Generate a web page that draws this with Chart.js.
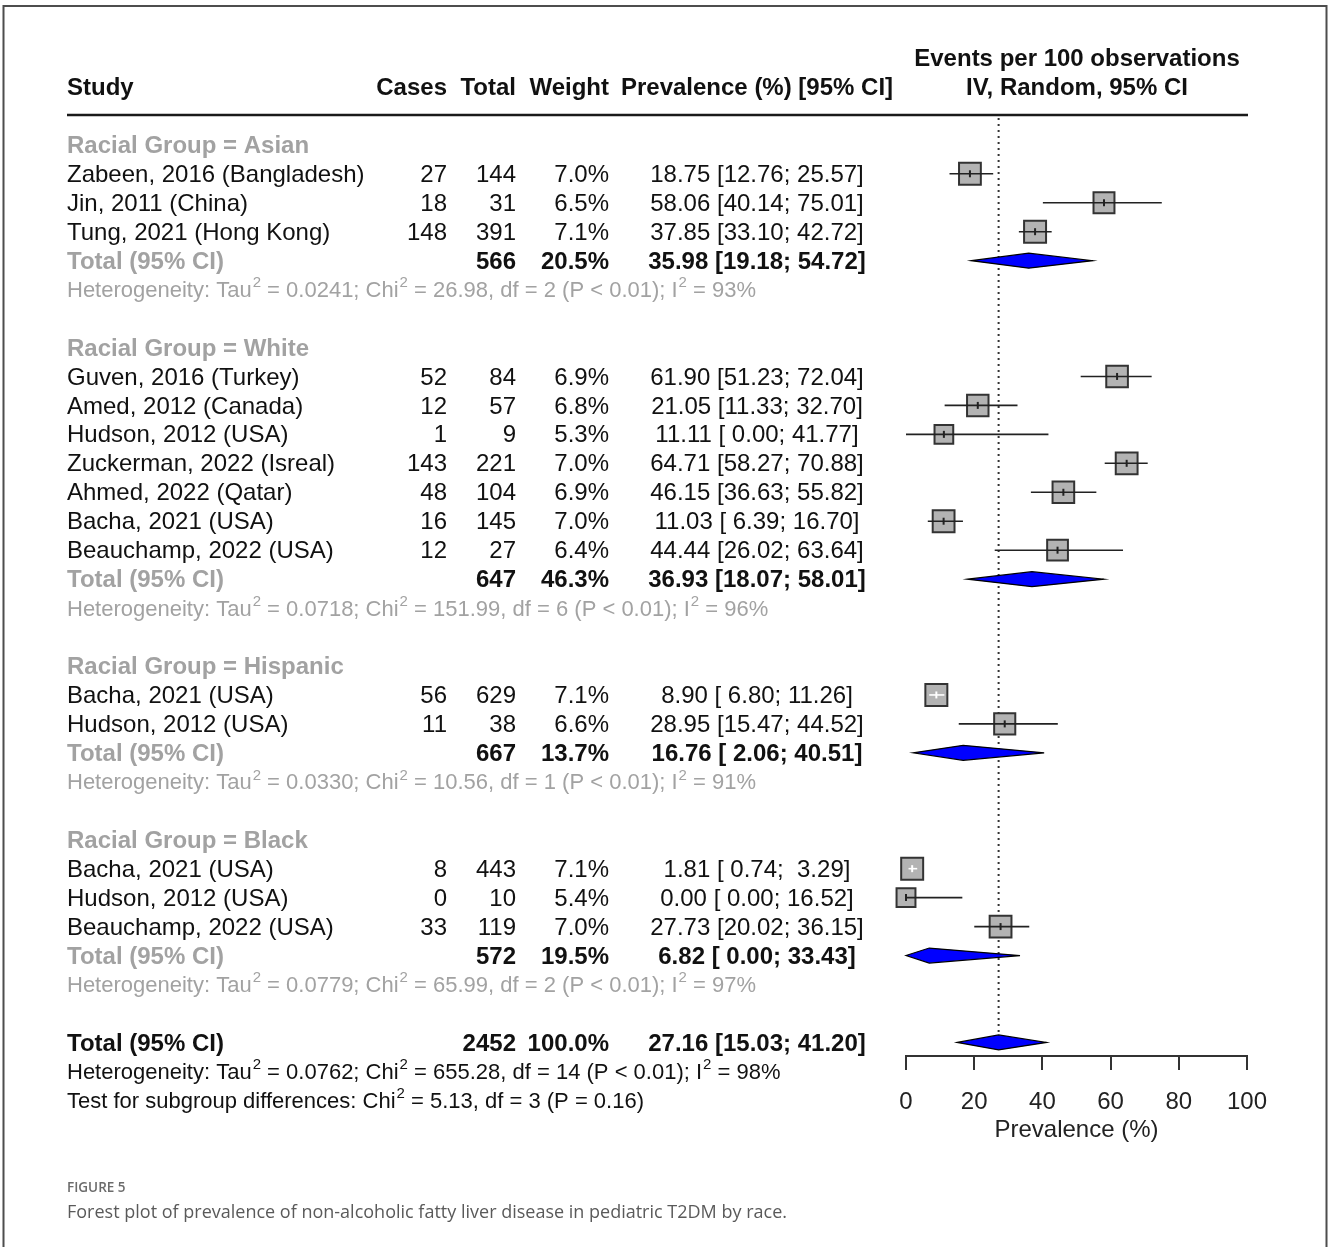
<!DOCTYPE html>
<html>
<head>
<meta charset="utf-8">
<title>Forest plot – NAFLD prevalence in pediatric T2DM by race</title>
<script src="https://cdn.jsdelivr.net/npm/chart.js@4.4.1/dist/chart.umd.min.js"></script>
<style>
  html, body { margin: 0; padding: 0; background: #ffffff; }
  canvas { display: block; }
</style>
</head>
<body>
<canvas id="forest" width="1328" height="1247"></canvas>
<script>
// ---- Study level data ----
const studyLabels = [
  "Zabeen, 2016 (Bangladesh)", "Jin, 2011 (China)", "Tung, 2021 (Hong Kong)",
  "Guven, 2016 (Turkey)", "Amed, 2012 (Canada)", "Hudson, 2012 (USA)",
  "Zuckerman, 2022 (Isreal)", "Ahmed, 2022 (Qatar)", "Bacha, 2021 (USA)",
  "Beauchamp, 2022 (USA)",
  "Bacha, 2021 (USA)", "Hudson, 2012 (USA)",
  "Bacha, 2021 (USA)", "Hudson, 2012 (USA)", "Beauchamp, 2022 (USA)"
];
const studyGroup = [0, 0, 0, 1, 1, 1, 1, 1, 1, 1, 2, 2, 3, 3, 3];
const cases      = [27, 18, 148, 52, 12, 1, 143, 48, 16, 12, 56, 11, 8, 0, 33];
const totals     = [144, 31, 391, 84, 57, 9, 221, 104, 145, 27, 629, 38, 443, 10, 119];
const weights    = [7.0, 6.5, 7.1, 6.9, 6.8, 5.3, 7.0, 6.9, 7.0, 6.4, 7.1, 6.6, 7.1, 5.4, 7.0];
const prevalence = [18.75, 58.06, 37.85, 61.90, 21.05, 11.11, 64.71, 46.15, 11.03, 44.44, 8.90, 28.95, 1.81, 0.00, 27.73];
const ciLow      = [12.76, 40.14, 33.10, 51.23, 11.33, 0.00, 58.27, 36.63, 6.39, 26.02, 6.80, 15.47, 0.74, 0.00, 20.02];
const ciHigh     = [25.57, 75.01, 42.72, 72.04, 32.70, 41.77, 70.88, 55.82, 16.70, 63.64, 11.26, 44.52, 3.29, 16.52, 36.15];

// ---- Subgroup (racial group) pooled results ----
const groupNames  = ["Asian", "White", "Hispanic", "Black"];
const groupTotal  = [566, 647, 667, 572];
const groupWeight = [20.5, 46.3, 13.7, 19.5];
const groupPrev   = [35.98, 36.93, 16.76, 6.82];
const groupLow    = [19.18, 18.07, 2.06, 0.00];
const groupHigh   = [54.72, 58.01, 40.51, 33.43];
const groupTau2   = ["0.0241", "0.0718", "0.0330", "0.0779"];
const groupChi2   = ["26.98", "151.99", "10.56", "65.99"];
const groupDf     = [2, 6, 1, 2];
const groupP      = ["< 0.01", "< 0.01", "< 0.01", "< 0.01"];
const groupI2     = [93, 96, 91, 97];

// ---- Overall pooled result ----
const overallTotal  = 2452;
const overallWeight = 100.0;
const overallPrev   = 27.16;
const overallLow    = 15.03;
const overallHigh   = 41.20;
const overallHet    = { tau2: "0.0762", chi2: "655.28", df: 14, p: "< 0.01", i2: 98 };
const subgroupTest  = { chi2: "5.13", df: 3, p: "= 0.16" };

// ---- Axis ----
const axisTicks = [0, 20, 40, 60, 80, 100];

// ---- Row layout: header, studies, total, heterogeneity, spacer per group ----
const rows = [];
const studyRow = [];
let r = 0;
groupNames.forEach((name, g) => {
  rows.push({ kind: "group", g, row: r++ });
  studyGroup.forEach((sg, i) => {
    if (sg === g) { studyRow[i] = r; rows.push({ kind: "study", i, row: r++ }); }
  });
  rows.push({ kind: "total", g, row: r++ });
  rows.push({ kind: "het", g, row: r++ });
  r++;
});
const overallRow = r;

// ---- Drawing helpers ----
const FONT = "'Liberation Sans', Arial, Helvetica, sans-serif";
const GREY = "#a2a2a2";
const INK = "#111111";
const TEXT_DY = 1.5;
const COL = { study: 67, cases: 447, total: 516, weight: 609, ci: 757, plot: 1077 };

function ciText(p, lo, hi) {
  const f = v => v.toFixed(2).padStart(5, " ");
  return `${p.toFixed(2)} [${f(lo)}; ${f(hi)}]`;
}
function text(ctx, s, x, y, opt) {
  ctx.font = `${opt.bold ? "bold " : ""}${opt.size || 24}px ${FONT}`;
  ctx.fillStyle = opt.color || INK;
  ctx.textAlign = opt.align || "left";
  ctx.textBaseline = "middle";
  ctx.fillText(s, x, y + TEXT_DY);
}
function rich(ctx, parts, x, y, size, color) {
  ctx.fillStyle = color;
  ctx.textAlign = "left";
  ctx.textBaseline = "middle";
  let cx = x;
  y += TEXT_DY;
  parts.forEach(p => {
    if (p.sup) {
      ctx.font = `${Math.round(size * 0.68)}px ${FONT}`;
      ctx.fillText(p.t, cx + 1, y - size * 0.36);
      cx += ctx.measureText(p.t).width + 1;
    } else {
      ctx.font = `${size}px ${FONT}`;
      ctx.fillText(p.t, cx, y);
      cx += ctx.measureText(p.t).width;
    }
  });
}
function hetParts(h) {
  return [
    { t: "Heterogeneity: Tau" }, { t: "2", sup: true },
    { t: ` = ${h.tau2}; Chi` }, { t: "2", sup: true },
    { t: ` = ${h.chi2}, df = ${h.df} (P ${h.p}); I` }, { t: "2", sup: true },
    { t: ` = ${h.i2}%` }
  ];
}
// square side grows with sqrt(weight), so its area follows the weight
function boxRadius(w) {
  const side = 9.0 * Math.sqrt(w) - 2;
  return side / (2 * Math.SQRT1_2);
}
function diamond(ctx, xs, y, est, lo, hi) {
  const h = 7.5;
  ctx.beginPath();
  ctx.moveTo(xs.getPixelForValue(lo), y);
  ctx.lineTo(xs.getPixelForValue(est), y - h);
  ctx.lineTo(xs.getPixelForValue(hi), y);
  ctx.lineTo(xs.getPixelForValue(est), y + h);
  ctx.closePath();
  ctx.fillStyle = "#0000ff";
  ctx.fill();
  ctx.lineWidth = 1.2;
  ctx.strokeStyle = "#000000";
  ctx.stroke();
}

const forestPlugin = {
  id: "forestLayer",
  beforeDraw(chart) {
    const { ctx } = chart;
    const ys = chart.scales.y;
    const Y = v => ys.getPixelForValue(v);
    ctx.save();
    ctx.fillStyle = "#ffffff";
    ctx.fillRect(0, 0, chart.width, chart.height);

    // frame (open at the bottom)
    ctx.strokeStyle = "#4d4d4d";
    ctx.lineWidth = 2;
    ctx.beginPath();
    ctx.moveTo(3.5, 1247); ctx.lineTo(3.5, 6); ctx.lineTo(1326.5, 6); ctx.lineTo(1326.5, 1247);
    ctx.stroke();

    // column headers
    text(ctx, "Events per 100 observations", COL.plot, Y(-3), { bold: true, align: "center" });
    text(ctx, "IV, Random, 95% CI", COL.plot, Y(-2), { bold: true, align: "center" });
    text(ctx, "Study", COL.study, Y(-2), { bold: true });
    text(ctx, "Cases", COL.cases, Y(-2), { bold: true, align: "right" });
    text(ctx, "Total", COL.total, Y(-2), { bold: true, align: "right" });
    text(ctx, "Weight", COL.weight, Y(-2), { bold: true, align: "right" });
    text(ctx, "Prevalence (%) [95% CI]", COL.ci, Y(-2), { bold: true, align: "center" });

    // header rule
    ctx.strokeStyle = "#1a1a1a";
    ctx.lineWidth = 2.5;
    ctx.beginPath();
    ctx.moveTo(67, chart.chartArea.top); ctx.lineTo(1248, chart.chartArea.top);
    ctx.stroke();

    rows.forEach(item => {
      const y = Y(item.row);
      if (item.kind === "group") {
        text(ctx, `Racial Group = ${groupNames[item.g]}`, COL.study, y, { bold: true, color: GREY });
      } else if (item.kind === "study") {
        const i = item.i;
        text(ctx, studyLabels[i], COL.study, y, {});
        text(ctx, String(cases[i]), COL.cases, y, { align: "right" });
        text(ctx, String(totals[i]), COL.total, y, { align: "right" });
        text(ctx, weights[i].toFixed(1) + "%", COL.weight, y, { align: "right" });
        text(ctx, ciText(prevalence[i], ciLow[i], ciHigh[i]), COL.ci, y, { align: "center" });
      } else if (item.kind === "total") {
        const g = item.g;
        text(ctx, "Total (95% CI)", COL.study, y, { bold: true, color: GREY });
        text(ctx, String(groupTotal[g]), COL.total, y, { bold: true, align: "right" });
        text(ctx, groupWeight[g].toFixed(1) + "%", COL.weight, y, { bold: true, align: "right" });
        text(ctx, ciText(groupPrev[g], groupLow[g], groupHigh[g]), COL.ci, y, { bold: true, align: "center" });
      } else if (item.kind === "het") {
        const g = item.g;
        rich(ctx, hetParts({ tau2: groupTau2[g], chi2: groupChi2[g], df: groupDf[g], p: groupP[g], i2: groupI2[g] }),
             COL.study, y, 22, GREY);
      }
    });

    // overall
    const yo = Y(overallRow);
    text(ctx, "Total (95% CI)", COL.study, yo, { bold: true });
    text(ctx, String(overallTotal), COL.total, yo, { bold: true, align: "right" });
    text(ctx, overallWeight.toFixed(1) + "%", COL.weight, yo, { bold: true, align: "right" });
    text(ctx, ciText(overallPrev, overallLow, overallHigh), COL.ci, yo, { bold: true, align: "center" });
    rich(ctx, hetParts(overallHet), COL.study, Y(overallRow + 1), 22, INK);
    rich(ctx, [
      { t: "Test for subgroup differences: Chi" }, { t: "2", sup: true },
      { t: ` = ${subgroupTest.chi2}, df = ${subgroupTest.df} (P ${subgroupTest.p})` }
    ], COL.study, Y(overallRow + 2), 22, INK);

    // caption
    ctx.font = `600 13.5px 'Open Sans', 'Noto Sans', sans-serif`;
    ctx.fillStyle = "#6b6b6b";
    ctx.textAlign = "left";
    ctx.textBaseline = "middle";
    ctx.fillText("FIGURE 5", 67, 1188);
    ctx.font = `18px 'Open Sans', 'Noto Sans', sans-serif`;
    ctx.fillStyle = "#5a5a5a";
    ctx.fillText("Forest plot of prevalence of non-alcoholic fatty liver disease in pediatric T2DM by race.", 67, 1213);
    ctx.restore();
  },
  beforeDatasetsDraw(chart) {
    const { ctx } = chart;
    const xs = chart.scales.x, ys = chart.scales.y;
    const x = xs.getPixelForValue(overallPrev);
    ctx.save();
    ctx.strokeStyle = "#333333";
    ctx.lineWidth = 2;
    ctx.setLineDash([2, 4]);
    ctx.beginPath();
    ctx.moveTo(x, chart.chartArea.top + 3);
    ctx.lineTo(x, ys.getPixelForValue(overallRow) - 7);
    ctx.stroke();
    ctx.restore();
  },
  afterDatasetsDraw(chart) {
    const { ctx } = chart;
    const xs = chart.scales.x, ys = chart.scales.y;
    ctx.save();
    prevalence.forEach((p, i) => {
      const y = ys.getPixelForValue(studyRow[i]);
      const xc = xs.getPixelForValue(p);
      const half = boxRadius(weights[i]) * Math.SQRT1_2;
      const x0 = xs.getPixelForValue(ciLow[i]);
      const x1 = xs.getPixelForValue(ciHigh[i]);
      const inside = x0 >= xc - half && x1 <= xc + half;
      ctx.strokeStyle = inside ? "#ffffff" : "#222222";
      ctx.lineWidth = 1.6;
      ctx.beginPath();
      ctx.moveTo(x0, y); ctx.lineTo(x1, y);
      ctx.stroke();
      ctx.lineWidth = 2;
      ctx.beginPath();
      ctx.moveTo(xc, y - 3.5); ctx.lineTo(xc, y + 3.5);
      ctx.stroke();
    });
    groupNames.forEach((n, g) => {
      const row = rows.find(it => it.kind === "total" && it.g === g).row;
      diamond(ctx, xs, ys.getPixelForValue(row), groupPrev[g], groupLow[g], groupHigh[g]);
    });
    diamond(ctx, xs, ys.getPixelForValue(overallRow), overallPrev, overallLow, overallHigh);
    ctx.restore();
  }
};

new Chart(document.getElementById("forest"), {
  type: "scatter",
  data: {
    datasets: [{
      label: "Prevalence (%)",
      data: prevalence.map((p, i) => ({ x: p, y: studyRow[i] })),
      pointStyle: "rect",
      pointRadius: c => boxRadius(weights[c.dataIndex]),
      pointHoverRadius: c => boxRadius(weights[c.dataIndex]),
      backgroundColor: "#b3b3b3",
      borderColor: "#333333",
      borderWidth: 2,
      clip: false
    }]
  },
  options: {
    responsive: false,
    animation: false,
    events: [],
    layout: { padding: { left: 906, right: 81, top: 115, bottom: 51 } },
    plugins: { legend: { display: false }, tooltip: { enabled: false } },
    scales: {
      x: {
        type: "linear",
        min: axisTicks[0],
        max: axisTicks[axisTicks.length - 1],
        afterBuildTicks: s => { s.ticks = axisTicks.map(v => ({ value: v })); },
        afterFit: s => { s.height = 140; },
        ticks: { color: "#222222", font: { family: FONT, size: 24 }, padding: 18, maxRotation: 0 },
        grid: { drawOnChartArea: false, drawTicks: true, tickLength: 14, color: "#333333", lineWidth: 2 },
        border: { display: true, color: "#333333", width: 2 },
        title: { display: true, text: "Prevalence (%)", color: "#222222",
                 font: { family: FONT, size: 24 }, padding: { top: 0, bottom: 51 } }
      },
      y: { type: "linear", reverse: true, min: -1.03, max: 31.47, display: false }
    }
  },
  plugins: [forestPlugin]
});
</script>
</body>
</html>
